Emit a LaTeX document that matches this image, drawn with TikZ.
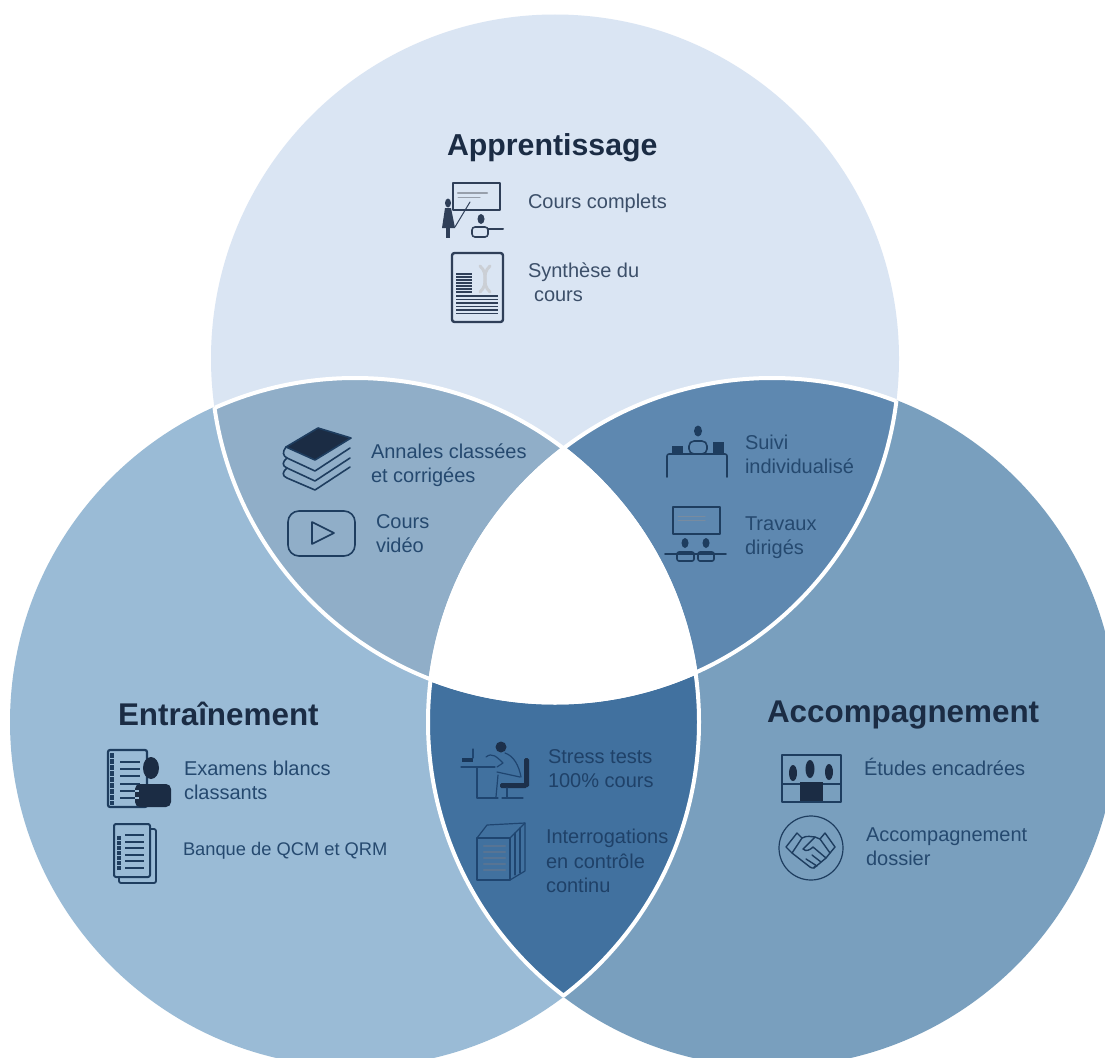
\documentclass[tikz,border=0pt]{standalone}
\usepackage{fontspec}
\setmainfont{Liberation Sans}
\definecolor{cTop}{HTML}{DAE5F3}
\definecolor{cLeft}{HTML}{9ABBD6}
\definecolor{cRight}{HTML}{799FBE}
\definecolor{cTL}{HTML}{90AEC8}
\definecolor{cTR}{HTML}{5E88B0}
\definecolor{cBot}{HTML}{41719F}
\definecolor{ink}{HTML}{1B2C44}
\definecolor{txA}{HTML}{3C4F69}
\definecolor{txB}{HTML}{25496F}
\definecolor{txC}{HTML}{1F4168}
\definecolor{icA}{HTML}{2F3F58}
\definecolor{icB}{HTML}{1E3D5F}
\definecolor{icC}{HTML}{1F4570}
\tikzset{
  lbl/.style={anchor=base west,inner sep=0pt,outer sep=0pt,font=\fontsize{20}{24}\selectfont},
  lblnarrow/.style={lbl,font=\fontsize{18.3}{24}\selectfont},
  head/.style={anchor=base west,inner sep=0pt,outer sep=0pt,text=ink,font=\fontsize{31.4}{36}\selectfont\bfseries},
  headsmall/.style={head,font=\fontsize{30.3}{36}\selectfont\bfseries},
  ic/.style={line width=1.6pt,line join=round,line cap=round},
  sep/.style={draw=white,line width=4pt}
}
\begin{document}
\begin{tikzpicture}[x=1pt,y=-1pt]
\useasboundingbox (0,0) rectangle (1105,1057);
\fill[white] (0,0) rectangle (1105,1057);
\begin{scope}
\clip (0,0) rectangle (1105,1057);
\coordinate (T) at (555,358.5);
\coordinate (L) at (355,722);
\coordinate (R) at (772,722);
\fill[cTop] (T) circle (344);
\fill[cLeft] (L) circle (345);
\fill[cRight] (R) circle (345);
\begin{scope}\clip (T) circle (344); \fill[cTL] (L) circle (345); \end{scope}
\begin{scope}\clip (T) circle (344); \fill[cTR] (R) circle (345); \end{scope}
\begin{scope}\clip (L) circle (345); \fill[cBot] (R) circle (345); \end{scope}
\begin{scope}\clip (T) circle (344); \clip (L) circle (344); \fill[white] (R) circle (344); \end{scope}
\begin{scope}\clip (L) circle (345); \draw[sep] (T) circle (344); \end{scope}
\begin{scope}\clip (R) circle (345); \draw[sep] (T) circle (344); \end{scope}
\begin{scope}\clip (T) circle (344); \draw[sep] (L) circle (344); \end{scope}
\begin{scope}\clip (R) circle (345); \draw[sep] (L) circle (344); \end{scope}
\begin{scope}\clip (T) circle (344); \draw[sep] (R) circle (344); \end{scope}
\begin{scope}\clip (L) circle (345); \draw[sep] (R) circle (344); \end{scope}
\end{scope}

% headings
\node[headsmall] (hA) at (447,155) {Apprentissage};
\node[head] (hE) at (118,725) {Entraînement};
\node[head] (hC) at (767,722) {Accompagnement};

% labels
\begin{scope}[every node/.append style={text=txA}]
\node[lbl] (a1) at (528,208) {Cours complets};
\node[lbl] (a2) at (528,277) {Synthèse du};
\node[lbl] (a3) at (534,301) {cours};
\end{scope}
\begin{scope}[every node/.append style={text=txB}]
\node[lbl] (b1) at (371,458) {Annales classées};
\node[lbl] (b2) at (371,482) {et corrigées};
\node[lbl] (b3) at (376,528) {Cours};
\node[lbl] (b4) at (376,552) {vidéo};
\node[lbl] (c1) at (745,449) {Suivi};
\node[lbl] (c2) at (745,473) {individualisé};
\node[lbl] (c3) at (745,530) {Travaux};
\node[lbl] (c4) at (745,554) {dirigés};
\node[lbl] (e1) at (184,775) {Examens blancs};
\node[lbl] (e2) at (184,799) {classants};
\node[lblnarrow] (e3) at (183,855) {Banque de QCM et QRM};
\node[lbl] (f1) at (864,775) {Études encadrées};
\node[lbl] (f2) at (866,841) {Accompagnement};
\node[lbl] (f3) at (866,865) {dossier};
\end{scope}
\begin{scope}[every node/.append style={text=txC}]
\node[lbl] (d1) at (548,763) {Stress tests};
\node[lbl] (d2) at (548,787) {100\% cours};
\node[lbl] (d3) at (546,843) {Interrogations};
\node[lbl] (d4) at (546,868) {en contrôle};
\node[lbl] (d5) at (546,892) {continu};
\end{scope}

% teacher icon
\begin{scope}[ic,draw=icA]
\draw[line width=2pt] (453,183) rectangle (500,210);
\draw[line width=2.4pt,draw=icA!50] (458,193) -- (487,193);
\draw[line width=1pt,draw=icA!50] (458,197) -- (480,197);
\draw[line width=1pt] (455,227) -- (470,202);
\fill[icA] (448,203) ellipse (3 and 4.5);
\fill[icA] (445,208) -- (451,208) -- (455,228) -- (442,228) -- cycle;
\draw[line width=4pt,line cap=butt] (448,228) -- (448,238);
\fill[icA] (481,219) ellipse (3.5 and 5);
\draw[rounded corners=3pt] (472,227) rectangle (488,237);
\draw[line width=2pt] (488,229) -- (503,229);
% summary sheet
\draw[rounded corners=2.5pt,line width=2.4pt] (452,253) rectangle (503,322);
\foreach \y in {274,277,...,292} \draw[line width=2pt,line cap=butt] (456,\y) -- (472,\y);
\foreach \y in {296,299.5,...,316} \draw[line width=1.8pt,line cap=butt] (456,\y) -- (498,\y);
\draw[line width=3pt,draw=icA!25] (480,266) .. controls (490,275) and (480,283) .. (490,292);
\draw[line width=3pt,draw=icA!25] (490,266) .. controls (480,275) and (490,283) .. (480,292);
\end{scope}

% books icon
\begin{scope}[ic,draw=icB]
\fill[ink] (286,447) -- (318,428) -- (351,438) -- (315,460) -- cycle;
\draw (286,447) -- (318,428) -- (351,438) -- (315,460) -- cycle;
\draw (286,447) .. controls (282,452) and (283,456) .. (287,458) -- (315,471) -- (350,448);
\draw (287,458) .. controls (282,462) and (282,466) .. (287,468) -- (315,481) -- (350,458);
\draw (287,468) .. controls (282,472) and (282,476) .. (287,478) -- (315,490) -- (350,467);
% video icon
\draw[rounded corners=11pt] (288,511) rectangle (355,556);
\draw (312,522) -- (334,533) -- (312,544) -- cycle;
\end{scope}

% desk icon
\begin{scope}[ic,draw=icB]
\draw[rounded corners=2pt] (667,477) -- (667,454) -- (727,454) -- (727,477);
\fill[icB] (698,431) ellipse (4 and 5.5);
\draw[rounded corners=5pt] (689,441) rectangle (707,454);
\fill[icB] (672,446) rectangle (683,453);
\fill[icB] (713,442) rectangle (724,453);
% classroom icon
\draw[line width=2pt] (673,507) rectangle (720,534);
\draw[line width=1pt,draw=icB!60] (678,516) -- (705,516);
\draw[line width=1pt,draw=icB!60] (678,520) -- (705,520);
\fill[icB] (685,543) ellipse (3.5 and 5);
\fill[icB] (706,543) ellipse (3.5 and 5);
\draw[rounded corners=2pt] (677,552) rectangle (694,561);
\draw[rounded corners=2pt] (698,552) rectangle (714,561);
\draw (665,554) -- (726,554);
\end{scope}

% stress icon
\begin{scope}[ic,draw=icC,line width=1.2pt]
\fill[ink!85!icC] (501,747) circle (5.5);
\fill[icC!80!black] (462,758) rectangle (473,762);
\draw (473,749) -- (473,758);
\draw (461,767) -- (495,767);
\draw (477,768) -- (477,798) -- (498,798);
\draw (486,757) .. controls (492,752) and (497,757) .. (503,763) -- (497,767);
\draw (505,753) .. controls (514,756) and (519,766) .. (521,777);
\draw (498,775) -- (496,797);
\draw (497,772) -- (520,777);
\fill[ink!85!icC,rounded corners=1.5pt] (500,783) rectangle (527,788);
\fill[ink!85!icC,rounded corners=1.5pt] (524,758) rectangle (529,787);
\draw (507,788) -- (507,798);
\draw (502,798) -- (523,798);
% stack icon
\draw (477,838) rectangle (510,880);
\draw (477,838) -- (487,825) -- (525,823) -- (525,871) -- (510,880);
\draw (510,838) -- (525,823);
\draw (515,833) -- (515,875);
\draw (520,828) -- (520,873);
\foreach \y in {846,852,...,870} \draw[line width=2.4pt,draw=icC!75!white] (484,\y) -- (505,\y);
\end{scope}

% exam icon
\begin{scope}[ic,draw=icB]
\draw[rounded corners=2pt,line width=2.2pt] (108,750) rectangle (147,807);
\foreach \y in {762,769,776,784,791,798} \draw[line width=2pt,line cap=butt] (120,\y) -- (140,\y);
\draw[line width=4pt,line cap=butt,dash pattern=on 5pt off 1pt] (112,753) -- (112,805);
\fill[ink] (151,768) ellipse (8 and 11);
\fill[ink,rounded corners=5pt] (135,784) rectangle (171,807);
\foreach \y in {791,798} \draw[line width=2pt,line cap=butt,draw=cLeft] (135,\y) -- (139,\y);
% bank icon
\draw[rounded corners=2pt,line width=1.8pt] (150,829) -- (156,829) -- (156,883) -- (119,883) -- (119,877);
\draw[rounded corners=2pt,line width=2pt] (114,824) rectangle (150,877);
\foreach \y in {835,841.5,...,869} \draw[line width=2pt,line cap=butt] (125,\y) -- (144,\y);
\draw[line width=4pt,line cap=butt,dash pattern=on 4pt off 1pt] (119,836) -- (119,870);
\end{scope}

% study room icon
\begin{scope}[ic,draw=icB]
\draw[line width=2.4pt] (782,755) rectangle (841,802);
\draw[line width=1.6pt] (782,784) -- (841,784);
\fill[ink] (793,773) ellipse (4 and 8);
\fill[ink] (810,769) ellipse (4.5 and 9);
\fill[ink] (829,772) ellipse (4 and 8);
\fill[ink] (800,782) rectangle (823,801);
% handshake icon
\draw[line width=1.2pt] (811,848) circle (32);
\draw[line width=1.4pt] (786,847) -- (797,833) -- (802,838) -- (792,853) -- cycle;
\draw[line width=1.4pt] (825,833) -- (835,847) -- (830,853) -- (820,839) -- cycle;
\draw[line width=1.4pt] (802,838) .. controls (807,835) and (812,837) .. (815,837) -- (820,839);
\draw[line width=1.4pt] (815,837) -- (803,849) .. controls (806,852) and (810,850) .. (813,847) -- (826,858);
\draw[line width=1.4pt] (792,853) -- (810,867) .. controls (813,869) and (815,868) .. (815,866);
\draw[line width=1.4pt] (830,853) -- (826,858) -- (814,868);
\draw[line width=1.4pt] (806,859) -- (817,866);
\draw[line width=1.4pt] (812,855) -- (821,862);
\end{scope}
\end{tikzpicture}
\end{document}
